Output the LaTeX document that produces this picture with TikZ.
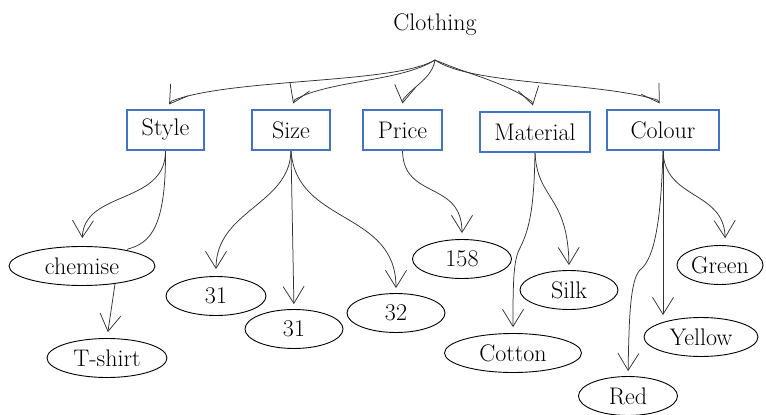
\documentclass[tikz,border=0pt]{standalone}
\usetikzlibrary{arrows.meta,shapes.geometric,backgrounds}
\definecolor{boxblue}{RGB}{68,114,196}
\definecolor{linkgray}{RGB}{50,50,50}
\begin{document}
\begin{tikzpicture}[x=1pt,y=-1pt,
  every node/.style={font=\rmfamily\fontsize{24}{27}\selectfont},
  catbox/.style={draw=boxblue,line width=1.1pt,fill=white,minimum height=40pt,inner sep=0pt},
  leaf/.style={ellipse,draw=black,line width=0.9pt,fill=white,inner sep=0pt,minimum height=39pt},
  link/.style={draw=linkgray,line width=0.75pt,-{Straight Barb[length=17pt,width=21pt]}},
]
\useasboundingbox (0,0) rectangle (766,415);

% root label and the point where its links fan out
\node (clothing) at (435,25) {Clothing};
\coordinate (hub) at (435,60);

% attribute boxes
\node[catbox,minimum width=77pt]  (style)    at (165.5,130) {Style};
\node[catbox,minimum width=78pt]  (size)     at (291,130)   {Size};
\node[catbox,minimum width=79pt]  (price)    at (402.5,130) {Price};
\node[catbox,minimum width=110pt] (material) at (535,132)   {Material};
\node[catbox,minimum width=112pt] (colour)   at (663,130)   {Colour};

% values
\node[leaf,minimum width=146pt] (chemise) at (82,266)  {chemise};
\node[leaf,minimum width=120pt] (tshirt)  at (107,358) {T-shirt};
\node[leaf,minimum width=100pt] (s31a)    at (216,296) {31};
\node[leaf,minimum width=98pt]  (s31b)    at (294,329) {31};
\node[leaf,minimum width=98pt]  (s32)     at (396,313) {32};
\node[leaf,minimum width=99pt]  (p158)    at (462,259) {158};
\node[leaf,minimum width=137pt] (cotton)  at (513,353) {Cotton};
\node[leaf,minimum width=98pt]  (silk)    at (569,290) {Silk};
\node[leaf,minimum width=99pt]  (red)     at (628,396) {Red};
\node[leaf,minimum width=114pt] (yellow)  at (701,337) {Yellow};
\node[leaf,minimum width=86pt]  (green)   at (720,265) {Green};

\begin{pgfonlayer}{background}
\fill[white] (0,0) rectangle (766,415);

% root to attributes
\draw[link] (hub) .. controls (395,84) and (230,78) .. ([xshift=2.3pt,yshift=8.3pt]style.80) -- ([yshift=5pt]style.80);
\draw[link] (hub) .. controls (400,82) and (330,80) .. ([xshift=1.5pt,yshift=9.7pt]size.84) -- ([yshift=6pt]size.84);
\draw[link] (hub) .. controls (432,78) and (415,85) .. ([xshift=0.6pt,yshift=10pt]price.north) -- ([yshift=6pt]price.north);
\draw[link] (hub) .. controls (470,75) and (505,82) .. ([xshift=-1pt,yshift=9.9pt]material.96) -- ([yshift=6pt]material.96);
\draw[link] (hub) .. controls (470,85) and (600,82) .. ([xshift=-2.2pt,yshift=9.4pt]colour.99) -- ([yshift=6pt]colour.99);

% attributes to values
\draw[link,shorten >=8pt] (style.south) .. controls (166,205) and (84,190) .. (chemise.north);
\draw[link,shorten >=6pt] (style.south) .. controls (166,228) and (150,243) .. (128,249) -- (115,284) -- (tshirt.north);
\draw[link,shorten >=7pt] (size.south) .. controls (290,205) and (216,210) .. (s31a.north);
\draw[link,shorten >=5pt] (size.south) -- (s31b.north);
\draw[link,shorten >=5pt] (size.south) .. controls (296,225) and (396,210) .. (s32.north);
\draw[link,shorten >=6pt] (price.south) .. controls (403,200) and (462,180) .. (p158.north);
\draw[link,shorten >=6pt] (material.south) .. controls (534,215) and (528,232) .. (519,250) .. controls (513,262) and (513,290) .. (cotton.north);
\draw[link,shorten >=5pt] (material.south) .. controls (537,200) and (568,195) .. (silk.north);
\draw[link,shorten >=5pt] (colour.south) .. controls (661,220) and (655,258) .. (640,270) .. controls (630,280) and (629,320) .. (red.north);
\draw[link,shorten >=2pt] (colour.south) -- (colour.south |- yellow.north);
\draw[link,shorten >=7pt] (colour.south) .. controls (664,200) and (724,190) .. (green.75);
\end{pgfonlayer}
\end{tikzpicture}
\end{document}
